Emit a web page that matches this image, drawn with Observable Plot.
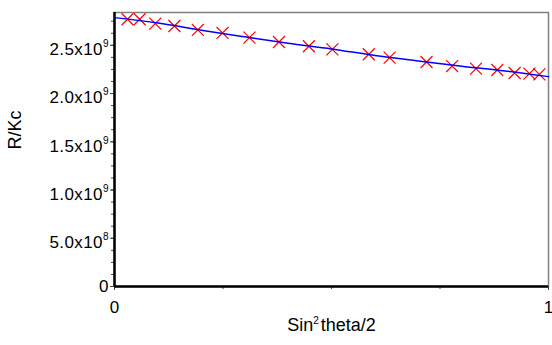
<!DOCTYPE html>
<html><head><meta charset="utf-8">
<script src="https://cdn.jsdelivr.net/npm/d3@7"></script>
<script src="https://cdn.jsdelivr.net/npm/@observablehq/plot@0.6"></script>
<style>body{margin:0;background:#fff} svg{display:block}</style>
</head><body><div id="chart"></div>
<script>
// measured points (sin^2(theta/2), R/Kc)
const sinSq = [0.030, 0.058, 0.094, 0.138, 0.192, 0.249, 0.311, 0.379, 0.448, 0.502, 0.586, 0.634, 0.719, 0.778, 0.833, 0.882, 0.922, 0.956, 0.979];
const rkc = [2.770e9, 2.770e9, 2.725e9, 2.700e9, 2.659e9, 2.628e9, 2.580e9, 2.534e9, 2.490e9, 2.458e9, 2.407e9, 2.372e9, 2.327e9, 2.285e9, 2.258e9, 2.244e9, 2.213e9, 2.206e9, 2.199e9];
// fitted curve
const fitX = [0, 0.1, 0.2, 0.3, 0.4, 0.5, 0.6, 0.7, 0.8, 0.9, 1.0];
const fitY = [2.787e9, 2.730e9, 2.657e9, 2.588e9, 2.521e9, 2.462e9, 2.394e9, 2.338e9, 2.284e9, 2.234e9, 2.175e9];
// ticks
const yTicks = [0, 5e8, 1e9, 1.5e9, 2e9, 2.5e9];
const yTickLabels = ["0", "5.0x10^8", "1.0x10^9", "1.5x10^9", "2.0x10^9", "2.5x10^9"];
const yMinor = [0, 1.25e8, 2.5e8, 3.75e8, 5e8, 6.25e8, 7.5e8, 8.75e8, 1e9, 1.125e9, 1.25e9, 1.375e9, 1.5e9, 1.625e9, 1.75e9, 1.875e9, 2e9, 2.125e9, 2.25e9, 2.375e9, 2.5e9, 2.625e9, 2.75e9];
const xTicks = [0, 1];
const xTickLabels = ["0", "1"];
const xMinor = [0.25, 0.5, 0.75];
const xLabel = "Sin^2theta/2";
const yLabel = "R/Kc";

const points = sinSq.map((x, i) => ({x, y: rkc[i]}));
const fit = fitX.map((x, i) => ({x, y: fitY[i]}));

const chart = Plot.plot({
  width: 552, height: 345,
  marginLeft: 114, marginTop: 12, marginRight: 4, marginBottom: 59,
  style: {fontFamily: "'Liberation Sans', Arial, sans-serif", fontSize: "17px", color: "#000", background: "#fff"},
  x: {domain: [0, 1]},
  y: {domain: [0, 2.84e9]},
  marks: [
    Plot.frame({stroke: "#808080", strokeWidth: 1.5}),
    Plot.axisY({ticks: yMinor, tickSize: 3, tickFormat: () => "", stroke: "#444", label: null}),
    Plot.axisY({ticks: yTicks, tickSize: 4, tickPadding: 2, tickFormat: d => yTickLabels[yTicks.indexOf(d)], stroke: "#444", fontSize: 17, label: null}),
    Plot.axisX({ticks: xMinor, tickSize: 3, tickFormat: () => "", stroke: "#444", label: null}),
    Plot.axisX({ticks: xTicks, tickSize: 4, tickPadding: 10, tickFormat: d => xTickLabels[xTicks.indexOf(d)], stroke: "#444", fontSize: 17, label: null}),
    Plot.ruleX([0], {stroke: "black", strokeWidth: 2.5}),
    Plot.ruleY([0], {stroke: "black", strokeWidth: 2.5}),
    Plot.dot(points, {x: "x", y: "y", symbol: "times", r: 5.5, stroke: "red", strokeWidth: 1.2}),
    Plot.line(fit, {x: "x", y: "y", stroke: "blue", strokeWidth: 1.5, curve: "monotone-x"}),
    Plot.text([yLabel], {frameAnchor: "left", dx: -99.5, rotate: -90, fontSize: 18}),
    Plot.text([xLabel], {frameAnchor: "bottom", dy: 44, fontSize: 18})
  ]
});

d3.select(chart).selectAll("text").each(function() {
  const t = this.textContent;
  const m = t.match(/^(.*?)\^(\d)(.*)$/);
  if (!m) return;
  const sel = d3.select(this);
  sel.text(null);
  const isLabel = m[3].length > 0;
  sel.append("tspan").attr("dy", isLabel ? 0 : 4.5).attr("letter-spacing", isLabel ? null : 0.4).text(m[1]);
  sel.append("tspan").attr("dy", isLabel ? -7 : -8).attr("font-size", 10).text(m[2]);
  if (isLabel) sel.append("tspan").attr("dy", 7).attr("dx", 2).text(m[3]);
});

document.getElementById("chart").appendChild(chart);
</script>
</body></html>
